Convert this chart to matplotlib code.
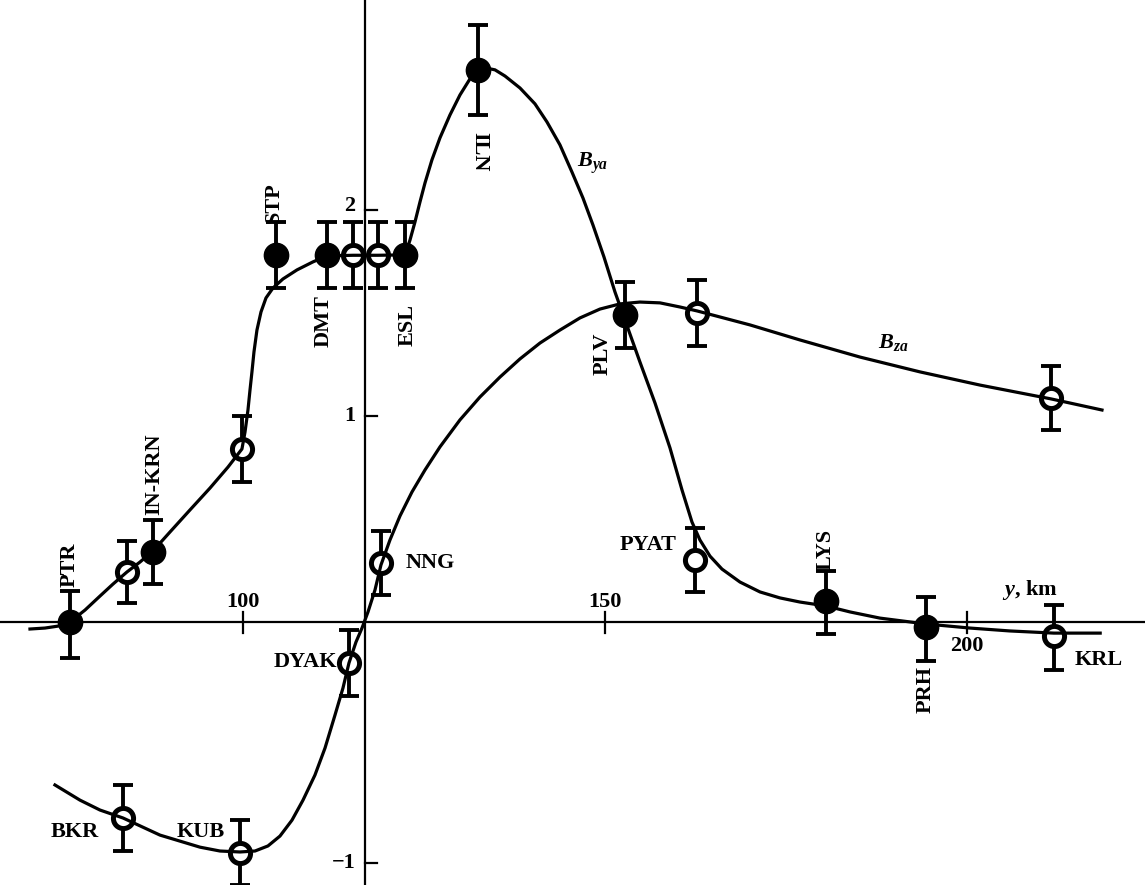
import numpy as np
import matplotlib.pyplot as plt

plt.rcParams['font.family'] = ['Liberation Serif', 'DejaVu Serif']
plt.rcParams['font.weight'] = 'bold'
plt.rcParams['mathtext.fontset'] = 'custom'
plt.rcParams['mathtext.it'] = 'Liberation Serif:italic:bold'
plt.rcParams['mathtext.rm'] = 'Liberation Serif:bold'

# station values: position y (km), amplitude, error, filled marker?
st_x = [76.1, 84.0, 87.6, 99.9, 104.6, 111.6, 115.2, 118.6, 122.4, 132.5,
        152.8, 162.7, 162.4, 180.5, 194.3, 212.0, 211.6,
        83.4, 99.6, 114.6, 119.1]
st_val = [0.0, 0.243, 0.34, 0.84, 1.78, 1.78, 1.78, 1.78, 1.78, 2.68,
          1.49, 1.50, 0.30, 0.10, -0.02, -0.058, 1.087,
          -0.813, -0.958, -0.17, 0.286]
st_err = [0.15, 0.15, 0.155, 0.16, 0.16, 0.16, 0.16, 0.16, 0.16, 0.22,
          0.16, 0.16, 0.155, 0.15, 0.14, 0.14, 0.155,
          0.135, 0.135, 0.135, 0.155]
st_filled = [1, 0, 1, 0, 1, 1, 0, 0, 1, 1,
             1, 0, 0, 1, 1, 0, 0,
             0, 0, 0, 0]

# model curve B_ya
bya_x = [70.58, 72.65, 74.45, 76.10, 78.18, 80.25, 82.04, 83.98, 85.77, 87.57,
         89.92, 92.68, 95.44, 97.93, 99.86, 100.28, 100.69, 100.97, 101.24,
         101.52, 101.93, 102.49, 103.18, 104.14, 105.52, 107.46, 109.67, 111.6,
         115.2, 118.6, 122.4, 123.07, 123.76, 124.45, 125.14, 126.10, 127.21,
         128.59, 129.97, 131.35, 132.46, 133.56, 134.81, 136.19, 138.26, 140.33,
         141.99, 143.78, 145.44, 146.96, 148.34, 149.86, 151.38, 152.76, 154.83,
         156.91, 158.98, 160.64, 162.02, 163.12, 164.50, 166.16, 168.65, 171.41,
         174.17, 176.93, 180.52, 183.84, 187.98, 194.3, 200.4, 205.9, 212.0,
         218.4]
bya_y = [-0.029, -0.025, -0.017, 0.0, 0.058, 0.126, 0.184, 0.243, 0.291, 0.345,
         0.437, 0.544, 0.650, 0.752, 0.840, 0.922, 1.029, 1.126, 1.214, 1.311,
         1.417, 1.505, 1.573, 1.621, 1.665, 1.709, 1.748, 1.777, 1.78, 1.78,
         1.782, 1.854, 1.942, 2.039, 2.131, 2.243, 2.350, 2.461, 2.558, 2.636,
         2.680, 2.689, 2.680, 2.650, 2.592, 2.515, 2.427, 2.316, 2.184, 2.058,
         1.927, 1.772, 1.602, 1.466, 1.262, 1.063, 0.845, 0.641, 0.485, 0.398,
         0.320, 0.257, 0.194, 0.146, 0.117, 0.097, 0.078, 0.049, 0.019, -0.008,
         -0.025, -0.037, -0.046, -0.046]

# model curve B_za
bza_x = [74.03, 77.49, 80.25, 83.43, 88.54, 94.06, 96.82, 99.59, 101.66, 103.45,
         105.11, 106.77, 108.29, 109.94, 111.33, 112.71, 113.81, 114.64, 115.61,
         116.44, 117.27, 118.23, 119.06, 120.30, 121.69, 123.34, 125.14, 127.21,
         129.97, 132.73, 135.50, 138.26, 141.02, 143.78, 146.55, 149.31, 152.07,
         154.83, 157.60, 160.36, 162.71, 170.03, 176.93, 185.22, 193.51, 201.80,
         211.60, 218.65]
bza_y = [-0.676, -0.739, -0.780, -0.813, -0.884, -0.934, -0.950, -0.954, -0.950,
         -0.929, -0.888, -0.822, -0.739, -0.635, -0.523, -0.386, -0.274, -0.170,
         -0.083, -0.025, 0.049, 0.155, 0.277, 0.398, 0.515, 0.631, 0.738, 0.850,
         0.981, 1.092, 1.189, 1.277, 1.354, 1.417, 1.476, 1.519, 1.544, 1.553,
         1.549, 1.529, 1.510, 1.442, 1.369, 1.286, 1.214, 1.150, 1.083, 1.029]

# station names: text, x, y, rotation, alignment
names = ['PTR', 'IN-KRN', 'STP', 'DMT', 'ESL', 'ILN', 'PLV', 'LYS', 'PRH',
         'PYAT', 'NNG', 'DYAK', 'BKR', 'KUB', 'KRL']
name_x = [76.1, 87.8, 104.2, 111.2, 122.8, 132.7, 149.7, 180.5, 194.3,
          155.9, 122.4, 113.0, 76.8, 94.1, 214.8]
name_y = [0.277, 0.718, 2.034, 1.461, 1.442, 2.282, 1.301, 0.354, -0.282,
          0.374, 0.286, -0.166, -0.871, -0.871, -0.158]
name_rot = [90, 90, 90, 90, 90, 270, 90, 90, 90, 0, 0, 0, 0, 0, 0]
name_ha = ['center'] * 9 + ['center', 'left', 'right', 'center', 'center', 'left']

y_axis_at = 116.8
neg_k = 241 / 206  # the negative half of the ordinate is drawn stretched


def fwd(v):
    v = np.asarray(v, dtype=float)
    return np.where(v < 0, v * neg_k, v)


def inv(v):
    v = np.asarray(v, dtype=float)
    return np.where(v < 0, v / neg_k, v)


fig = plt.figure(figsize=(11.45, 8.85), dpi=100)
ax = fig.add_axes([0, 0, 1, 1])
ax.set_yscale('function', functions=(fwd, inv))
ax.set_xlim(66.44, 224.59)
ax.set_ylim(-1.091, 3.019)

# axes drawn through the origin
ax.axhline(0, color='black', lw=1.6, zorder=1)
ax.axvline(y_axis_at, color='black', lw=1.6, zorder=1)
for s in ax.spines.values():
    s.set_visible(False)
ax.set_xticks([])
ax.set_yticks([])

for xt in [100, 150, 200]:
    ax.plot([xt, xt], [-0.045, 0.05], color='black', lw=1.6, zorder=1)
for yt in [-1, 1, 2]:
    ax.plot([y_axis_at, y_axis_at + 1.7], [yt, yt], color='black', lw=1.6, zorder=1)

tfont = dict(fontsize=16, fontweight='bold', color='black')
ax.text(100, 0.05, '100', ha='center', va='bottom', **tfont)
ax.text(150, 0.05, '150', ha='center', va='bottom', **tfont)
ax.text(200, -0.06, '200', ha='center', va='top', **tfont)
ax.text(y_axis_at - 1.3, 1.0, '1', ha='right', va='center', **tfont)
ax.text(y_axis_at - 1.3, 2.02, '2', ha='right', va='center', **tfont)
ax.text(y_axis_at - 1.3, -1.0, '\u22121', ha='right', va='center', **tfont)
ax.text(208.7, 0.155, r'$y$, km', ha='center', va='center', **tfont)

# error bars sit under everything
ax.errorbar(st_x, st_val, yerr=st_err, fmt='none', ecolor='black',
            elinewidth=2.8, capsize=7.5, capthick=2.8, zorder=2)

fx = [x for x, f in zip(st_x, st_filled) if f]
fy = [v for v, f in zip(st_val, st_filled) if f]
ox = [x for x, f in zip(st_x, st_filled) if not f]
oy = [v for v, f in zip(st_val, st_filled) if not f]

# white disc hides the error bar inside the open circles
ax.plot(ox, oy, 'o', ms=15, mfc='white', mec='white', mew=0, zorder=3)
ax.plot(bya_x, bya_y, color='black', lw=2.3, zorder=4,
        solid_joinstyle='round')
ax.plot(bza_x, bza_y, color='black', lw=2.3, zorder=4,
        solid_joinstyle='round')
ax.plot(ox, oy, 'o', ms=14.5, mfc='none', mec='black', mew=3.6, zorder=5)
ax.plot(fx, fy, 'o', ms=17.5, mfc='black', mec='black', mew=1, zorder=5)

for t, x, y, r, ha in zip(names, name_x, name_y, name_rot, name_ha):
    ax.text(x, y, t, rotation=r, ha=ha, va='center', rotation_mode='anchor',
            **tfont)

ax.text(148.3, 2.228, r'$B_{ya}$', ha='center', va='center', **tfont)
ax.text(189.8, 1.359, r'$B_{za}$', ha='center', va='center', **tfont)

fig.savefig('out.png', dpi=100)
